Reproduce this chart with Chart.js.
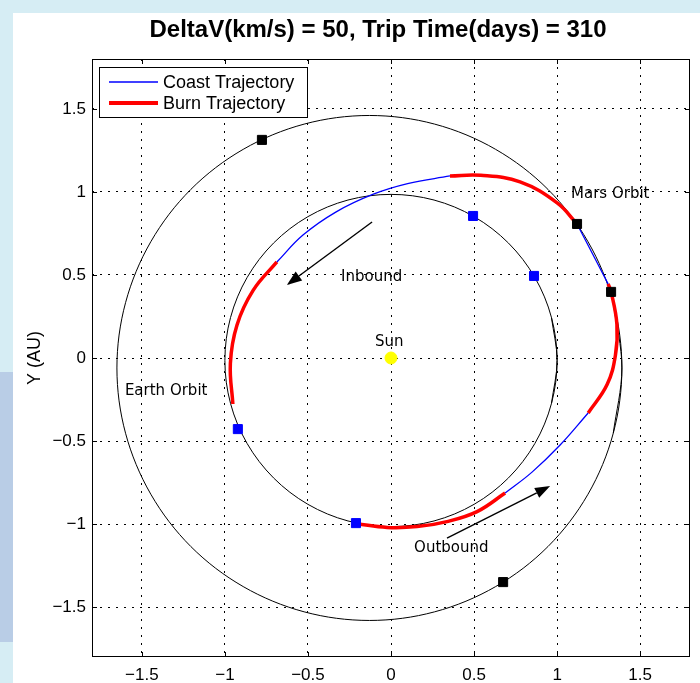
<!DOCTYPE html>
<html>
<head>
<meta charset="utf-8">
<script src="https://cdn.jsdelivr.net/npm/chart.js@4.4.1/dist/chart.umd.min.js"></script>
<style>
    html, body { margin: 0; padding: 0; }
    body { width: 700px; height: 683px; background: #d6edf4; position: relative; overflow: hidden; }
    #strip { position: absolute; left: 0; top: 372px; width: 13px; height: 270px; background: #b9cde6; }
    #panel { position: absolute; left: 13px; top: 13px; right: 0; bottom: 0; background: #fff; }
    canvas { position: absolute; left: 0; top: 0; }
</style>
</head>
<body>
<div id="strip"></div>
<div id="panel"></div>
<canvas id="orbit_chart" width="700" height="683"></canvas>
<script>
const xTicks = [-1.5, -1, -0.5, 0, 0.5, 1, 1.5];
const yTicks = [-1.5, -1, -0.5, 0, 0.5, 1, 1.5];

// orbits, every 15 degrees (AU)
const earthOrbit = [
    [1.000, -0.015], [0.966, 0.244], [0.866, 0.485], [0.707, 0.692], [0.500, 0.851], [0.259, 0.951],
    [0.000, 0.985], [-0.259, 0.951], [-0.500, 0.851], [-0.707, 0.692], [-0.866, 0.485], [-0.966, 0.244],
    [-1.000, -0.015], [-0.966, -0.274], [-0.866, -0.515], [-0.707, -0.722], [-0.500, -0.881], [-0.259, -0.981],
    [0.000, -1.015], [0.259, -0.981], [0.500, -0.881], [0.707, -0.722], [0.866, -0.515], [0.966, -0.274]
];
const marsOrbit = [
    [1.390, -0.060], [1.338, 0.333], [1.186, 0.700], [0.945, 1.015], [0.630, 1.256], [0.263, 1.408],
    [-0.130, 1.460], [-0.523, 1.408], [-0.890, 1.256], [-1.205, 1.015], [-1.446, 0.700], [-1.598, 0.333],
    [-1.650, -0.060], [-1.598, -0.453], [-1.446, -0.820], [-1.205, -1.135], [-0.890, -1.376], [-0.523, -1.528],
    [-0.130, -1.580], [0.263, -1.528], [0.630, -1.376], [0.945, -1.135], [1.186, -0.820], [1.338, -0.453]
];

const sunPos = [[0, 0]];
const earthPos = [[0.494, 0.855], [0.861, 0.494], [-0.922, -0.428], [-0.211, -0.994]];
const marsPos = [[-0.777, 1.313], [1.120, 0.807], [1.325, 0.398], [0.675, -1.349]];

// trajectory pieces
const burnOut1 = [[-0.205, -0.998], [-0.024, -1.020], [0.157, -1.015], [0.337, -0.985], [0.518, -0.925], [0.687, -0.813]];
const coastOut = [[0.687, -0.813], [0.849, -0.687], [1.018, -0.524], [1.187, -0.331]];
const burnOut2 = [[1.187, -0.331], [1.301, -0.160], [1.351, 0.017], [1.360, 0.202], [1.325, 0.398], [1.307, 0.446]];
const coastMars = [[1.307, 0.446], [1.217, 0.620], [1.120, 0.807]];
const burnIn1 = [[1.120, 0.807], [1.000, 0.934], [0.777, 1.060], [0.540, 1.100], [0.355, 1.096]];
const coastIn = [[0.355, 1.096], [0.100, 1.050], [-0.110, 0.985], [-0.330, 0.880], [-0.530, 0.740], [-0.687, 0.578]];
const burnIn2 = [[-0.687, 0.578], [-0.830, 0.407], [-0.927, 0.199], [-0.967, -0.032], [-0.952, -0.277]];

const coastPieces = [coastOut, coastMars, coastIn];
const burnPieces = [burnOut1, burnOut2, burnIn1, burnIn2];

const toXY = pts => pts.map(p => ({x: p[0], y: p[1]}));
const ring = pts => [pts[pts.length - 1], ...pts, pts[0], pts[1]];
const fmt = v => (v < 0 ? "\u2212" : "") + Math.abs(v);

const BLUE = "#0000ff", RED = "#ff0000";

const frame = {
    id: "frame",
    afterDatasetsDraw(chart) {
        const ctx = chart.ctx, a = chart.chartArea;
        const sx = chart.scales.x, sy = chart.scales.y;
        const px = v => sx.getPixelForValue(v), py = v => sy.getPixelForValue(v);
        ctx.save();

        // notes
        ctx.fillStyle = "#000";
        ctx.font = "15px 'DejaVu Sans'";
        ctx.textAlign = "left";
        ctx.textBaseline = "middle";
        [["Mars Orbit", 1.084, 0.988], ["Earth Orbit", -1.602, -0.199], ["Inbound", -0.301, 0.488],
         ["Outbound", 0.139, -1.145], ["Sun", -0.096, 0.096]].forEach(t => ctx.fillText(t[0], px(t[1]), py(t[2])));

        // arrows
        const arrow = (x0, y0, x1, y1) => {
            const ax = px(x0), ay = py(y0), bx = px(x1), by = py(y1);
            const ang = Math.atan2(by - ay, bx - ax), L = 15, W = 5.5;
            const cx = bx - L * Math.cos(ang), cy = by - L * Math.sin(ang);
            ctx.strokeStyle = "#000"; ctx.lineWidth = 1.4;
            ctx.beginPath(); ctx.moveTo(ax, ay); ctx.lineTo(cx, cy); ctx.stroke();
            ctx.beginPath();
            ctx.moveTo(bx, by);
            ctx.lineTo(cx + W * Math.sin(ang), cy - W * Math.cos(ang));
            ctx.lineTo(cx - W * Math.sin(ang), cy + W * Math.cos(ang));
            ctx.closePath(); ctx.fill();
        };
        arrow(-0.114, 0.819, -0.627, 0.440);
        arrow(0.337, -1.084, 0.958, -0.771);

        // box and inner ticks
        ctx.strokeStyle = "#000"; ctx.lineWidth = 1;
        ctx.strokeRect(a.left + 0.5, a.top + 0.5, a.right - a.left - 1, a.bottom - a.top - 1);
        ctx.beginPath();
        xTicks.forEach(v => {
            const x = Math.round(px(v)) + 0.5;
            ctx.moveTo(x, a.top); ctx.lineTo(x, a.top + 5);
            ctx.moveTo(x, a.bottom); ctx.lineTo(x, a.bottom - 5);
        });
        yTicks.forEach(v => {
            const y = Math.round(py(v)) + 0.5;
            ctx.moveTo(a.left, y); ctx.lineTo(a.left + 5, y);
            ctx.moveTo(a.right, y); ctx.lineTo(a.right - 5, y);
        });
        ctx.stroke();

        // legend
        const lx = a.left + 7, ly = a.top + 8;
        ctx.fillStyle = "#fff";
        ctx.fillRect(lx, ly, 208, 50);
        ctx.strokeRect(lx + 0.5, ly + 0.5, 208, 50);
        ctx.font = "18px 'Liberation Sans'";
        [["Coast Trajectory", BLUE, 1.5, 15], ["Burn Trajectory", RED, 4, 36]].forEach(e => {
            ctx.strokeStyle = e[1]; ctx.lineWidth = e[2];
            ctx.beginPath(); ctx.moveTo(lx + 10, ly + e[3]); ctx.lineTo(lx + 59, ly + e[3]); ctx.stroke();
            ctx.fillStyle = "#000";
            ctx.fillText(e[0], lx + 64, ly + e[3] + 1);
        });

        // title and axis label
        ctx.textAlign = "center";
        ctx.font = "bold 24px 'Liberation Sans'";
        ctx.fillText("DeltaV(km/s) = 50, Trip Time(days) = 310", 378, 30);
        ctx.font = "18px 'Liberation Sans'";
        ctx.translate(35, (a.top + a.bottom) / 2);
        ctx.rotate(-Math.PI / 2);
        ctx.fillText("Y (AU)", 0, 0);
        ctx.restore();
    }
};

const lineSet = (label, pts, color, width, tension) => ({
    label: label, data: toXY(pts), showLine: true, borderColor: color, borderWidth: width,
    pointRadius: 0, tension: tension
});

const datasets = [
    {label: "Sun", data: toXY(sunPos), pointStyle: "circle", pointRadius: 6, backgroundColor: "#ffff00", borderColor: "#ffff00"},
    {label: "Earth", data: toXY(earthPos), pointStyle: "rect", pointRadius: 6.4, backgroundColor: BLUE, borderColor: BLUE},
    {label: "Mars", data: toXY(marsPos), pointStyle: "rect", pointRadius: 6.4, backgroundColor: "#000", borderColor: "#000"},
    ...coastPieces.map(p => lineSet("Coast Trajectory", p, BLUE, 1.3, 0.4)),
    ...burnPieces.map(p => lineSet("Burn Trajectory", p, RED, 3.5, 0.4)),
    lineSet("Earth Orbit", ring(earthOrbit), "#000", 1, 0.34),
    lineSet("Mars Orbit", ring(marsOrbit), "#000", 1, 0.34)
];

const axis = (ticks, side) => ({
    type: "linear",
    min: -1.8,
    max: 1.8,
    afterBuildTicks: s => { s.ticks = ticks.map(v => ({value: v})); },
    afterFit: s => { if (side === "x") s.height = 26; else s.width = 92; },
    ticks: {
        autoSkip: false, maxRotation: 0, color: "#000",
        padding: side === "x" ? 8 : 6,
        font: {family: "Liberation Sans", size: 17},
        callback: v => fmt(v)
    },
    grid: {color: "#000", lineWidth: 1, drawTicks: false},
    border: {display: false, dash: [2, 6]}
});

new Chart(document.getElementById("orbit_chart"), {
    type: "scatter",
    data: {datasets: datasets},
    options: {
        responsive: false,
        animation: false,
        layout: {padding: {top: 59, right: 10, left: 0, bottom: 0}},
        scales: {x: axis(xTicks, "x"), y: axis(yTicks, "y")},
        plugins: {legend: {display: false}, tooltip: {enabled: false}, title: {display: false}}
    },
    plugins: [frame]
});
</script>
</body>
</html>
